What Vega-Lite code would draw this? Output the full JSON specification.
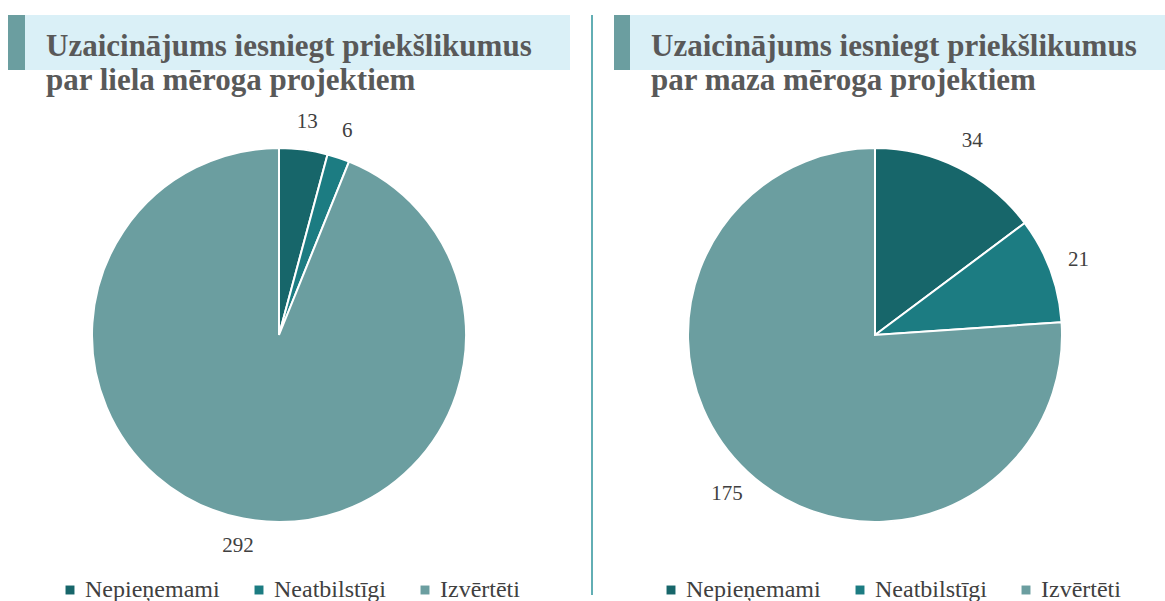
{
  "$schema": "https://vega.github.io/schema/vega-lite/v6.json",
  "background": "white",
  "padding": {"left": 8, "top": 15, "right": 0, "bottom": 0},
  "autosize": {"type": "pad"},
  "config": {
    "view": {"stroke": null},
    "font": "Times New Roman, Liberation Serif, serif",
    "legend": {"layout": {"bottom": {"anchor": "middle"}}}
  },
  "datasets": {
    "large": [
      {"category": "Nepieņemami", "count": 13, "ord": 1},
      {"category": "Neatbilstīgi", "count": 6, "ord": 2},
      {"category": "Izvērtēti", "count": 292, "ord": 3}
    ],
    "small": [
      {"category": "Nepieņemami", "count": 34, "ord": 1},
      {"category": "Neatbilstīgi", "count": 21, "ord": 2},
      {"category": "Izvērtēti", "count": 175, "ord": 3}
    ]
  },
  "spacing": 21,
  "hconcat": [
    {
      "spacing": 4,
      "vconcat": [
        {
          "spacing": 0,
          "hconcat": [
            {"width": 17, "height": 55, "view": {"fill": "#6B9EA0", "stroke": null}, "data": {"values": []}, "mark": "text"},
            {
              "width": 545, "height": 55,
              "view": {"fill": "#DAF0F7", "stroke": null},
              "data": {"values": [{"panel": "large"}]},
              "mark": {"type": "text", "text": ["Uzaicinājums iesniegt priekšlikumus", "par liela mēroga projektiem"], "align": "left", "baseline": "alphabetic", "dx": -251.5, "dy": 13.5, "lineHeight": 34, "font": "Times New Roman, Liberation Serif, serif", "fontWeight": "bold", "fontSize": 31, "color": "#595959", "clip": false},
              "encoding": {}
            }
          ]
        },
        {
          "width": 542, "height": 470,
          "data": {"name": "large"},
          "encoding": {
            "theta": {"field": "count", "type": "quantitative", "stack": true},
            "order": {"field": "ord", "type": "quantitative"},
            "color": {"field": "category", "type": "nominal",
              "scale": {"domain": ["Nepieņemami", "Neatbilstīgi", "Izvērtēti"], "range": ["#17666A", "#1C7C82", "#6B9EA0"]},
              "legend": {"title": null, "orient": "bottom", "direction": "horizontal", "symbolType": "square", "symbolSize": 80, "symbolStrokeWidth": 0, "labelFont": "Times New Roman, Liberation Serif, serif", "labelFontSize": 24, "labelColor": "#404040", "columnPadding": 27, "labelOffset": 3, "offset": 8, "labelLimit": 300}}
          },
          "layer": [
            {"mark": {"type": "arc", "outerRadius": 187, "stroke": "white", "strokeWidth": 2}},
            {"mark": {"type": "text", "radius": 215, "fontSize": 21, "font": "Times New Roman, Liberation Serif, serif"}, "encoding": {"text": {"field": "count", "type": "quantitative"}, "color": {"value": "#404040"}}}
          ]
        }
      ]
    },
    {"width": 2, "height": 580, "view": {"fill": "#62AEB4", "stroke": null}, "data": {"values": []}, "mark": "text"},
    {
      "spacing": 4,
      "vconcat": [
        {
          "spacing": 0,
          "hconcat": [
            {"width": 16, "height": 55, "view": {"fill": "#6B9EA0", "stroke": null}, "data": {"values": []}, "mark": "text"},
            {
              "width": 535, "height": 55,
              "view": {"fill": "#DAF0F7", "stroke": null},
              "data": {"values": [{"panel": "small"}]},
              "mark": {"type": "text", "text": ["Uzaicinājums iesniegt priekšlikumus", "par maza mēroga projektiem"], "align": "left", "baseline": "alphabetic", "dx": -246.5, "dy": 13.5, "lineHeight": 34, "font": "Times New Roman, Liberation Serif, serif", "fontWeight": "bold", "fontSize": 31, "color": "#595959", "clip": false},
              "encoding": {}
            }
          ]
        },
        {
          "width": 522, "height": 470,
          "data": {"name": "small"},
          "encoding": {
            "theta": {"field": "count", "type": "quantitative", "stack": true},
            "order": {"field": "ord", "type": "quantitative"},
            "color": {"field": "category", "type": "nominal",
              "scale": {"domain": ["Nepieņemami", "Neatbilstīgi", "Izvērtēti"], "range": ["#17666A", "#1C7C82", "#6B9EA0"]},
              "legend": {"title": null, "orient": "bottom", "direction": "horizontal", "symbolType": "square", "symbolSize": 80, "symbolStrokeWidth": 0, "labelFont": "Times New Roman, Liberation Serif, serif", "labelFontSize": 24, "labelColor": "#404040", "columnPadding": 27, "labelOffset": 3, "offset": 8, "labelLimit": 300}}
          },
          "layer": [
            {"mark": {"type": "arc", "outerRadius": 187, "stroke": "white", "strokeWidth": 2}},
            {"mark": {"type": "text", "radius": 217, "fontSize": 21, "font": "Times New Roman, Liberation Serif, serif"}, "encoding": {"text": {"field": "count", "type": "quantitative"}, "color": {"value": "#404040"}}}
          ]
        }
      ]
    }
  ],
  "resolve": {"scale": {"color": "independent"}}
}
